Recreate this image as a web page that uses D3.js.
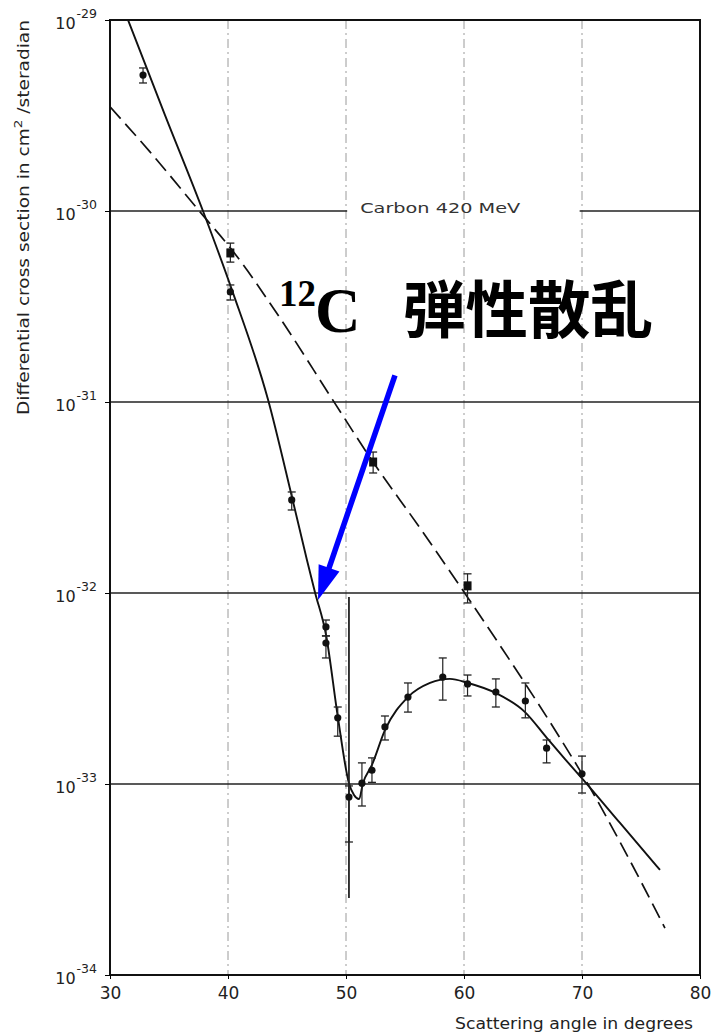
<!DOCTYPE html>
<html>
<head>
<meta charset="utf-8">
<script src="https://cdn.jsdelivr.net/npm/d3@7"></script>
<style>
  body { margin: 0; background: #fff; }
  svg { display: block; }
  .axis text { font-family: 'DejaVu Sans', sans-serif; fill: #222; }
</style>
</head>
<body>
<div id="chart"></div>
<script>
// ticks
const xTicks = [30, 40, 50, 60, 70, 80]
const yTicks = [1e-34, 1e-33, 1e-32, 1e-31, 1e-30, 1e-29]
const gridAngles = [40, 50, 60, 70]

// measured points (circles)
const angles = [32.8, 40.2, 45.4, 48.3, 48.3, 49.3, 50.25, 51.35, 52.2, 53.3, 55.25, 58.2, 60.3, 62.7, 65.2, 67.0, 70.0]
const sigma = [5.15e-30, 3.77e-31, 3.07e-32, 6.64e-33, 5.47e-33, 2.22e-33, 8.55e-34, 1.01e-33, 1.18e-33, 1.99e-33, 2.85e-33, 3.63e-33, 3.34e-33, 3.03e-33, 2.72e-33, 1.54e-33, 1.13e-33]
const sigmaLo = [4.68e-30, 3.42e-31, 2.72e-32, 5.96e-33, 4.57e-33, 1.78e-33, 4.97e-34, 7.67e-34, 1.02e-33, 1.70e-33, 2.38e-33, 2.75e-33, 2.89e-33, 2.53e-33, 2.22e-33, 1.29e-33, 8.97e-34]
const sigmaHi = [5.61e-30, 4.10e-31, 3.38e-32, 7.22e-33, 5.96e-33, 2.53e-33, 9.77e-34, 1.29e-33, 1.37e-33, 2.27e-33, 3.38e-33, 4.57e-33, 3.72e-33, 3.55e-33, 3.38e-33, 1.70e-33, 1.40e-33]

// measured points (squares)
const sqAngles = [40.2, 52.3, 60.3]
const sqSigma = [6.03e-31, 4.85e-32, 1.09e-32]
const sqLo = [5.40e-31, 4.25e-32, 8.87e-33]
const sqHi = [6.79e-31, 5.47e-32, 1.26e-32]

// long bar at the minimum
const minBarAngle = 50.25
const minBarRange = [2.53e-34, 9.53e-33]

// solid curve
const fitAngles = [31.53, 34.66, 37.88, 40.34, 43.39, 45.42, 46.69, 47.37, 48.31, 49.32, 50.25, 50.68, 51.1, 51.44, 52.2, 53.31, 55.25, 57.12, 58.81, 60.34, 62.71, 65.17, 67.03, 68.56, 70.0, 73.22, 76.61]
const fitSigma = [1.0e-29, 3.18e-30, 1.0e-30, 3.85e-31, 1.03e-31, 3.18e-32, 1.49e-32, 1.01e-32, 6.03e-33, 2.22e-33, 1.01e-33, 8.75e-34, 8.34e-34, 1.01e-33, 1.26e-33, 1.92e-33, 2.85e-33, 3.38e-33, 3.55e-33, 3.38e-33, 2.99e-33, 2.38e-33, 1.74e-33, 1.35e-33, 1.07e-33, 6.25e-34, 3.55e-34]

// dashed curve
const dashAngles = [30.0, 33.39, 37.63, 40.34, 44.41, 48.9, 52.29, 56.27, 60.34, 64.15, 68.14, 70.0, 73.22, 77.03]
const dashSigma = [3.51e-30, 2.04e-30, 9.89e-31, 6.25e-31, 2.75e-31, 1.02e-31, 4.85e-32, 2.19e-32, 9.42e-33, 4.20e-33, 1.74e-33, 1.13e-33, 4.97e-34, 1.76e-34]

const W = 713
const H = 1033
const margin = { top: 20, left: 110, right: 13, bottom: 58 }
const width = W - margin.left - margin.right
const height = H - margin.top - margin.bottom

const svg = d3
  .select('#chart')
  .append('svg')
  .attr('width', W)
  .attr('height', H)

const g = svg
  .append('g')
  .attr('transform', 'translate(' + margin.left + ',' + margin.top + ')')

const x = d3.scaleLinear().domain([30, 80]).range([0, width])
const y = d3.scaleLog().domain([1e-34, 1e-29]).range([height, 0])

g.append('clipPath')
  .attr('id', 'plot-clip')
  .append('rect')
  .attr('width', width)
  .attr('height', height)

// vertical dash-dot grid
g.selectAll('.vgrid')
  .data(gridAngles)
  .enter()
  .append('line')
  .attr('class', 'vgrid')
  .attr('x1', d => x(d))
  .attr('x2', d => x(d))
  .attr('y1', 0)
  .attr('y2', height)
  .attr('stroke', '#9a9a9a')
  .attr('stroke-width', 1)
  .attr('stroke-dasharray', '9,4,2,4')

// horizontal grid (gap at 1e-30 for the label)
const hSegs = []
yTicks.slice(1, 5).forEach(v => {
  if (v === 1e-30) {
    hSegs.push({ v: v, a: 30, b: 50.1 })
    hSegs.push({ v: v, a: 69.8, b: 80 })
  } else {
    hSegs.push({ v: v, a: 30, b: 80 })
  }
})
g.selectAll('.hgrid')
  .data(hSegs)
  .enter()
  .append('line')
  .attr('class', 'hgrid')
  .attr('x1', d => x(d.a))
  .attr('x2', d => x(d.b))
  .attr('y1', d => y(d.v))
  .attr('y2', d => y(d.v))
  .attr('stroke', '#222')
  .attr('stroke-width', 1.6)

g.append('text')
  .attr('x', x(51.2))
  .attr('y', y(1e-30) + 2)
  .attr('font-family', 'DejaVu Sans, sans-serif')
  .attr('font-size', 14)
  .attr('fill', '#333')
  .attr('textLength', 160)
  .attr('lengthAdjust', 'spacingAndGlyphs')
  .text('Carbon  420 MeV')

// curves
const line = d3
  .line()
  .x(d => x(d[0]))
  .y(d => y(d[1]))
  .curve(d3.curveMonotoneX)

const curves = g.append('g').attr('clip-path', 'url(#plot-clip)')

curves
  .append('path')
  .datum(dashAngles.map((a, i) => [a, dashSigma[i]]))
  .attr('d', line)
  .attr('fill', 'none')
  .attr('stroke', '#111')
  .attr('stroke-width', 1.7)
  .attr('stroke-dasharray', '16,7')

curves
  .append('path')
  .datum(fitAngles.map((a, i) => [a, fitSigma[i]]))
  .attr('d', line)
  .attr('fill', 'none')
  .attr('stroke', '#111')
  .attr('stroke-width', 1.9)

// long vertical bar at the minimum
g.append('line')
  .attr('x1', x(minBarAngle))
  .attr('x2', x(minBarAngle))
  .attr('y1', y(minBarRange[0]))
  .attr('y2', y(minBarRange[1]))
  .attr('stroke', '#222')
  .attr('stroke-width', 1.8)

// error bars
const points = angles.map((a, i) => ({ a: a, v: sigma[i], lo: sigmaLo[i], hi: sigmaHi[i], sq: false }))
const sqPoints = sqAngles.map((a, i) => ({ a: a, v: sqSigma[i], lo: sqLo[i], hi: sqHi[i], sq: true }))
const allPoints = points.concat(sqPoints)

const err = g.selectAll('.err').data(allPoints).enter().append('g').attr('class', 'err')
err
  .append('line')
  .attr('x1', d => x(d.a))
  .attr('x2', d => x(d.a))
  .attr('y1', d => y(d.lo))
  .attr('y2', d => y(d.hi))
  .attr('stroke', '#222')
  .attr('stroke-width', 1.2)
err
  .selectAll('.cap')
  .data(d => [{ a: d.a, v: d.lo }, { a: d.a, v: d.hi }])
  .enter()
  .append('line')
  .attr('x1', d => x(d.a) - 4)
  .attr('x2', d => x(d.a) + 4)
  .attr('y1', d => y(d.v))
  .attr('y2', d => y(d.v))
  .attr('stroke', '#222')
  .attr('stroke-width', 1.3)

g.selectAll('.dot')
  .data(points)
  .enter()
  .append('circle')
  .attr('cx', d => x(d.a))
  .attr('cy', d => y(d.v))
  .attr('r', 3.6)
  .attr('fill', '#111')

g.selectAll('.sq')
  .data(sqPoints)
  .enter()
  .append('rect')
  .attr('x', d => x(d.a) - 4)
  .attr('y', d => y(d.v) - 4.5)
  .attr('width', 8)
  .attr('height', 9)
  .attr('fill', '#111')

// frame
g.append('rect')
  .attr('width', width)
  .attr('height', height)
  .attr('fill', 'none')
  .attr('stroke', '#111')
  .attr('stroke-width', 2)

// axes
const xAxis = d3.axisBottom(x).tickValues(xTicks).tickSize(4).tickPadding(8)
g.append('g')
  .attr('class', 'axis x-axis')
  .attr('transform', 'translate(0,' + height + ')')
  .call(xAxis)
  .call(gg => gg.select('.domain').remove())
  .call(gg => gg.selectAll('.tick text').attr('font-size', 17))

const yAxis = d3.axisLeft(y).tickValues(yTicks).tickSize(5).tickPadding(8)
g.append('g')
  .attr('class', 'axis y-axis')
  .call(yAxis)
  .call(gg => gg.select('.domain').remove())
  .selectAll('.tick text')
  .each(function(d) {
    const t = d3.select(this)
    const e = Math.round(Math.log10(d))
    t.text(null).attr('dy', '0.5em').attr('font-size', 16)
    t.append('tspan').text('10')
    t.append('tspan')
      .attr('font-size', 12.5)
      .attr('dy', '-0.85em')
      .attr('dx', '1')
      .text('-' + String(-e))
  })

// axis titles
svg
  .append('text')
  .attr('x', 455)
  .attr('y', 1029)
  .attr('font-family', 'DejaVu Sans, sans-serif')
  .attr('font-size', 15)
  .attr('fill', '#222')
  .attr('textLength', 238)
  .attr('lengthAdjust', 'spacingAndGlyphs')
  .text('Scattering angle in degrees')

const yt = svg
  .append('text')
  .attr('transform', 'translate(29,415) rotate(-90)')
  .attr('font-family', 'DejaVu Sans, sans-serif')
  .attr('font-size', 15)
  .attr('fill', '#222')
  .attr('textLength', 395)
  .attr('lengthAdjust', 'spacingAndGlyphs')
yt.append('tspan').text('Differential cross section in cm')
yt.append('tspan').attr('font-size', 11).attr('dy', -7).text('2')
yt.append('tspan').attr('dy', 7).text(' /steradian')

// annotation
const ann = svg.append('g')
ann
  .append('text')
  .attr('x', 279)
  .attr('y', 306)
  .attr('font-family', 'Liberation Serif, serif')
  .attr('font-weight', 700)
  .attr('font-size', 37)
  .text('12')
ann
  .append('text')
  .attr('x', 315)
  .attr('y', 332)
  .attr('font-family', 'Liberation Serif, serif')
  .attr('font-weight', 700)
  .attr('font-size', 63)
  .text('C')
ann
  .append('text')
  .attr('x', 403)
  .attr('y', 333)
  .attr('font-family', 'Noto Sans CJK JP, sans-serif')
  .attr('font-weight', 700)
  .attr('font-size', 62)
  .attr('textLength', 250)
  .attr('lengthAdjust', 'spacingAndGlyphs')
  .text('弾性散乱')

// arrow
const arrowFrom = [54.15, 1.38e-31]
const arrowTo = [47.63, 9.18e-33]
const ax0 = margin.left + x(arrowFrom[0])
const ay0 = margin.top + y(arrowFrom[1])
const ax1 = margin.left + x(arrowTo[0])
const ay1 = margin.top + y(arrowTo[1])
const len = Math.hypot(ax1 - ax0, ay1 - ay0)
const ux = (ax1 - ax0) / len
const uy = (ay1 - ay0) / len
const headLen = 34
const headW = 11
const bx = ax1 - ux * headLen
const by = ay1 - uy * headLen

ann
  .append('line')
  .attr('x1', ax0)
  .attr('y1', ay0)
  .attr('x2', bx + ux * 2)
  .attr('y2', by + uy * 2)
  .attr('stroke', '#0000ff')
  .attr('stroke-width', 5.5)
ann
  .append('polygon')
  .attr('points', [
    [ax1, ay1],
    [bx - uy * headW, by + ux * headW],
    [bx + uy * headW, by - ux * headW]
  ].map(p => p.join(',')).join(' '))
  .attr('fill', '#0000ff')
</script>
</body>
</html>
